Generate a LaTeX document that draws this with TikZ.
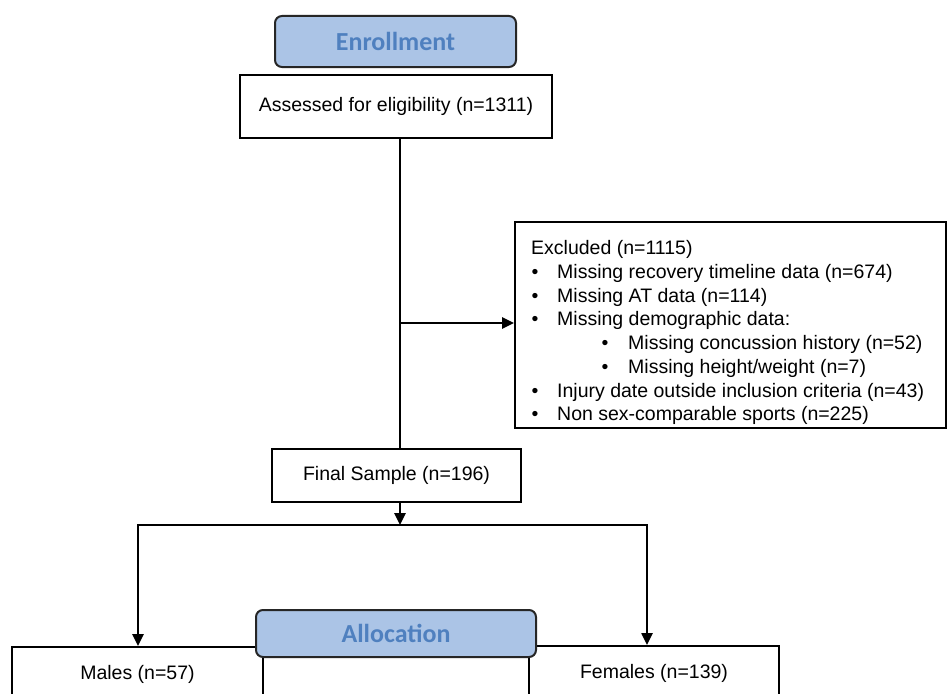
\documentclass[tikz,border=0pt]{standalone}
\usepackage{fontspec}
\setmainfont{Liberation Sans}
\newfontfamily\hdrfont{Carlito}
\usetikzlibrary{arrows.meta}
\definecolor{hdrfill}{HTML}{ABC4E6}
\definecolor{hdrtext}{HTML}{4F80BF}
\begin{document}
\begin{tikzpicture}[x=1pt,y=-1pt,
  box/.style={draw=black, line width=2pt, inner sep=0pt, fill=white,
    font=\fontsize{19.5}{23.7}\selectfont},
  hdr/.style={draw=black!85, line width=2pt, rounded corners=7pt, fill=hdrfill,
    text=hdrtext, inner sep=0pt, font=\hdrfont\bfseries\fontsize{26}{30}\selectfont},
  conn/.style={line width=2.5pt},
  arr/.style={conn, -{Triangle[length=12pt,width=11pt]}},
  extxt/.style={anchor=base west, inner sep=0pt, font=\fontsize{19.5}{23.7}\selectfont},
  bul/.style={anchor=base, inner sep=0pt, font=\fontsize{19.5}{23.7}\selectfont}
]
\clip (0,0) rectangle (949,693);
\fill[white] (0,0) rectangle (949,693);

% Enrollment
\node[box, minimum width=312pt, minimum height=63pt] (assess) at (396,106.5) {Assessed for eligibility (n=1311)};
\node[hdr, minimum width=241pt, minimum height=51pt] (enroll) at (395.5,41.5) {Enrollment};

% Excluded
\node[box, minimum width=431pt, minimum height=206pt] (excl) at (730.5,325) {};
\node[extxt] (ex0) at (531,254) {Excluded (n=1115)};
\node[bul] (b1) at (535,278) {•};
\node[extxt] (ex1) at (557,278) {Missing recovery timeline data (n=674)};
\node[bul] (b2) at (535,302) {•};
\node[extxt] (ex2) at (557,302) {Missing AT data (n=114)};
\node[bul] (b3) at (535,325.5) {•};
\node[extxt] (ex3) at (557,325.5) {Missing demographic data:};
\node[bul] (b4) at (605,349) {•};
\node[extxt] (ex4) at (628,349) {Missing concussion history (n=52)};
\node[bul] (b5) at (605,373) {•};
\node[extxt] (ex5) at (628,373) {Missing height/weight (n=7)};
\node[bul] (b6) at (535,397) {•};
\node[extxt] (ex6) at (557,397) {Injury date outside inclusion criteria (n=43)};
\node[bul] (b7) at (535,420) {•};
\node[extxt] (ex7) at (557,420) {Non sex-comparable sports (n=225)};

% Final sample
\node[box, minimum width=249pt, minimum height=53pt] (final) at (396.5,475.5) {Final Sample (n=196)};

% Allocation row
\node[box, minimum width=251pt, minimum height=54pt] (males) at (137.5,674) {Males (n=57)};
\node[box, minimum width=266pt, minimum height=54pt] (mid) at (396,674) {};
\node[box, minimum width=250pt, minimum height=54pt] (females) at (654,673) {Females (n=139)};
\node[hdr, minimum width=280pt, minimum height=47pt] (alloc) at (396,633.5) {Allocation};

% connectors
\coordinate (trunk) at (400,138);
\coordinate (branch) at (400,323);
\coordinate (split) at (400,525);
\coordinate (lcorner) at (138,525);
\coordinate (rcorner) at (647,525);

\draw[conn] (assess.south -| trunk) -- (final.north -| trunk);
\draw[arr] (branch) -- (excl.west |- branch);
\draw[arr] (final.south -| split) -- (split);
\draw[conn, line cap=rect] (lcorner) -- (rcorner);
\draw[arr] (lcorner) -- (lcorner |- males.north);
\draw[arr] (rcorner) -- (rcorner |- females.north);
\end{tikzpicture}
\end{document}
